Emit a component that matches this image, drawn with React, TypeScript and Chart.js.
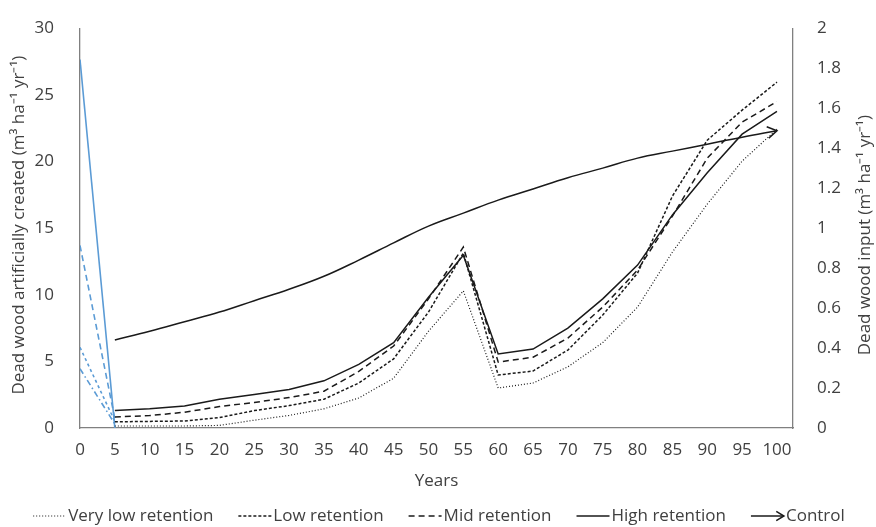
import React, { useEffect, useRef } from "react";
import { Chart, registerables } from "chart.js";

Chart.register(...registerables);

// ---------- data ----------
const years = [0, 5, 10, 15, 20, 25, 30, 35, 40, 45, 50, 55, 60, 65, 70, 75, 80, 85, 90, 95, 100];

// Dead wood input (right axis, m3 ha-1 yr-1)
const veryLowRetention = [null, 0.01, 0.01, 0.01, 0.013, 0.039, 0.063, 0.096, 0.15, 0.249, 0.484, 0.686, 0.2, 0.225, 0.306, 0.427, 0.605, 0.88, 1.12, 1.335, 1.495];
const lowRetention = [null, 0.031, 0.033, 0.035, 0.052, 0.087, 0.112, 0.144, 0.225, 0.346, 0.58, 0.875, 0.265, 0.285, 0.39, 0.565, 0.775, 1.16, 1.44, 1.59, 1.73];
const midRetention = [null, 0.055, 0.062, 0.079, 0.107, 0.128, 0.152, 0.184, 0.283, 0.41, 0.646, 0.905, 0.33, 0.354, 0.45, 0.605, 0.79, 1.06, 1.35, 1.53, 1.633];
const highRetention = [null, 0.087, 0.096, 0.11, 0.144, 0.168, 0.193, 0.236, 0.318, 0.427, 0.654, 0.864, 0.37, 0.395, 0.5, 0.646, 0.815, 1.066, 1.277, 1.47, 1.584];
const control = [null, 0.44, 0.484, 0.532, 0.58, 0.637, 0.694, 0.759, 0.84, 0.926, 1.01, 1.075, 1.14, 1.196, 1.252, 1.3, 1.35, 1.385, 1.42, 1.455, 1.487];

// Dead wood artificially created (left axis, m3 ha-1 yr-1)
const artYears = [0, 5];
const artHigh = [27.65, 0];
const artMid = [13.7, 0.7];
const artLow = [6.05, 0.5];
const artVeryLow = [4.45, 0.3];

const xTickValues = [0, 5, 10, 15, 20, 25, 30, 35, 40, 45, 50, 55, 60, 65, 70, 75, 80, 85, 90, 95, 100];
const leftTicks = { min: 0, max: 30, step: 5 };
const rightTicks = { min: 0, max: 2, step: 0.2 };

const leftTitle = "Dead wood artificially created (m\u00B3 ha\u207B\u00B9 yr\u207B\u00B9)";
const rightTitle = "Dead wood input (m\u00B3 ha\u207B\u00B9 yr\u207B\u00B9)";
const xTitle = "Years";

const legendLabels = ["Very low retention", "Low retention", "Mid retention", "High retention", "Control"];

// ---------- styles ----------
const FONT = "'Open Sans', sans-serif";
const FS = 17;
const TEXT = "#404040";
const AXIS = "#808080";
const BLACK = "#1a1a1a";
const BLUE = "#5b9bd5";

const pts = (xs: number[], ys: (number | null)[]) =>
  xs.map((x, i) => ({ x, y: ys[i] })).filter((p) => p.y !== null) as { x: number; y: number }[];

function drawArrowHead(ctx: CanvasRenderingContext2D, x: number, y: number, ang: number, len: number) {
  ctx.beginPath();
  ctx.moveTo(x - len * Math.cos(ang - 0.55), y - len * Math.sin(ang - 0.55));
  ctx.lineTo(x, y);
  ctx.lineTo(x - len * Math.cos(ang + 0.55), y - len * Math.sin(ang + 0.55));
  ctx.stroke();
}

const legendStyles = [
  { dash: [1, 2], width: 1.2, arrow: false },
  { dash: [3, 2], width: 1.5, arrow: false },
  { dash: [6, 4], width: 1.5, arrow: false },
  { dash: [], width: 1.5, arrow: false },
  { dash: [], width: 1.5, arrow: true },
];

const overlay = {
  id: "overlay",
  afterDatasetsDraw(chart: any) {
    const ctx: CanvasRenderingContext2D = chart.ctx;
    const meta = chart.getDatasetMeta(4);
    const d = meta.data;
    const p1 = d[d.length - 1];
    const p0 = d[d.length - 2];
    const cx = p1.cp1x !== undefined ? p1.cp1x : p0.x;
    const cy = p1.cp1y !== undefined ? p1.cp1y : p0.y;
    const ang = Math.atan2(p1.y - cy, p1.x - cx);
    ctx.save();
    ctx.strokeStyle = BLACK;
    ctx.lineWidth = 1.5;
    ctx.setLineDash([]);
    drawArrowHead(ctx, p1.x, p1.y, ang, 11);
    ctx.restore();
  },
  afterDraw(chart: any) {
    const ctx: CanvasRenderingContext2D = chart.ctx;
    const area = chart.chartArea;
    ctx.save();
    ctx.fillStyle = TEXT;
    ctx.font = `${FS}px ${FONT}`;
    ctx.textAlign = "center";
    ctx.textBaseline = "middle";
    // left title
    ctx.save();
    ctx.translate(19, (area.top + area.bottom) / 2 - 3);
    ctx.rotate(-Math.PI / 2);
    ctx.fillText(leftTitle, 0, 0);
    ctx.restore();
    // right title
    ctx.save();
    ctx.translate(865, (area.top + area.bottom) / 2 + 7);
    ctx.rotate(-Math.PI / 2);
    ctx.fillText(rightTitle, 0, 0);
    ctx.restore();
    // x title
    ctx.fillText(xTitle, (area.left + area.right) / 2, 481);

    // legend
    const sampleW = 33;
    const gap = 2;
    const itemGap = 25;
    const widths = legendLabels.map((l) => ctx.measureText(l).width);
    const total = widths.reduce((a, w) => a + sampleW + gap + w, 0) + itemGap * (legendLabels.length - 1);
    let x = 439 - total / 2;
    const y = 516;
    ctx.textAlign = "left";
    legendLabels.forEach((label, i) => {
      const st = legendStyles[i];
      ctx.save();
      ctx.strokeStyle = BLACK;
      ctx.lineWidth = st.width;
      ctx.setLineDash(st.dash);
      ctx.beginPath();
      ctx.moveTo(x, y);
      ctx.lineTo(x + sampleW, y);
      ctx.stroke();
      if (st.arrow) {
        ctx.setLineDash([]);
        drawArrowHead(ctx, x + sampleW, y, 0, 9);
      }
      ctx.restore();
      ctx.fillText(label, x + sampleW + gap, y);
      x += sampleW + gap + widths[i] + itemGap;
    });
    ctx.restore();
  },
};

const fmt = (v: any) => String(Math.round(Number(v) * 10) / 10);

export default function App() {
  const ref = useRef<HTMLCanvasElement | null>(null);

  useEffect(() => {
    if (!ref.current) return;
    const line = (label: string, data: any[], axis: string, color: string, dash: number[], width: number, tension = 0) => ({
      label,
      data,
      yAxisID: axis,
      borderColor: color,
      backgroundColor: color,
      borderDash: dash,
      borderWidth: width,
      pointRadius: 0,
      pointHoverRadius: 0,
      fill: false,
      tension,
    });

    const chart = new Chart(ref.current, {
      type: "line",
      data: {
        datasets: [
          line("Very low retention", pts(years, veryLowRetention), "y1", BLACK, [1, 2], 1.2),
          line("Low retention", pts(years, lowRetention), "y1", BLACK, [3, 2], 1.5),
          line("Mid retention", pts(years, midRetention), "y1", BLACK, [6, 4], 1.5),
          line("High retention", pts(years, highRetention), "y1", BLACK, [], 1.5),
          line("Control", pts(years, control), "y1", BLACK, [], 1.5, 0.4),
          line("Artificial high", pts(artYears, artHigh), "y", BLUE, [], 1.6),
          line("Artificial mid", pts(artYears, artMid), "y", BLUE, [6, 4], 1.6),
          line("Artificial low", pts(artYears, artLow), "y", BLUE, [3, 3], 1.6),
          line("Artificial very low", pts(artYears, artVeryLow), "y", BLUE, [6, 3, 1.5, 3], 1.6),
        ],
      },
      options: {
        responsive: false,
        animation: false,
        layout: { padding: { top: 16, bottom: 37, left: 0, right: 0 } },
        plugins: { legend: { display: false }, tooltip: { enabled: false } },
        scales: {
          x: {
            type: "linear",
            min: 0,
            max: 102.3,
            grid: { display: false },
            border: { display: true, color: AXIS, width: 1.3 },
            ticks: { padding: 4, color: TEXT, font: { family: FONT, size: FS }, maxRotation: 0, autoSkip: false, callback: fmt },
            afterBuildTicks: (s: any) => {
              s.ticks = xTickValues.map((v) => ({ value: v }));
            },
            afterFit: (s: any) => {
              s.height = 62;
            },
          },
          y: {
            position: "left",
            min: leftTicks.min,
            max: leftTicks.max,
            grid: { display: false },
            border: { display: true, color: AXIS, width: 1.3 },
            ticks: { stepSize: leftTicks.step, padding: 18, color: TEXT, font: { family: FONT, size: FS }, callback: fmt },
            afterFit: (s: any) => {
              s.width = 80;
            },
          },
          y1: {
            position: "right",
            min: rightTicks.min,
            max: rightTicks.max,
            grid: { display: false },
            border: { display: true, color: AXIS, width: 1.3 },
            ticks: { stepSize: rightTicks.step, padding: 16, color: TEXT, font: { family: FONT, size: FS }, callback: fmt },
            afterFit: (s: any) => {
              s.width = 83;
            },
          },
        },
      },
      plugins: [overlay],
    } as any);

    return () => chart.destroy();
  }, []);

  return (
    <div style={{ position: "fixed", left: 0, top: 0, width: 876, height: 527, background: "#fff" }}>
      <canvas ref={ref} width={876} height={527} style={{ display: "block" }} />
    </div>
  );
}
